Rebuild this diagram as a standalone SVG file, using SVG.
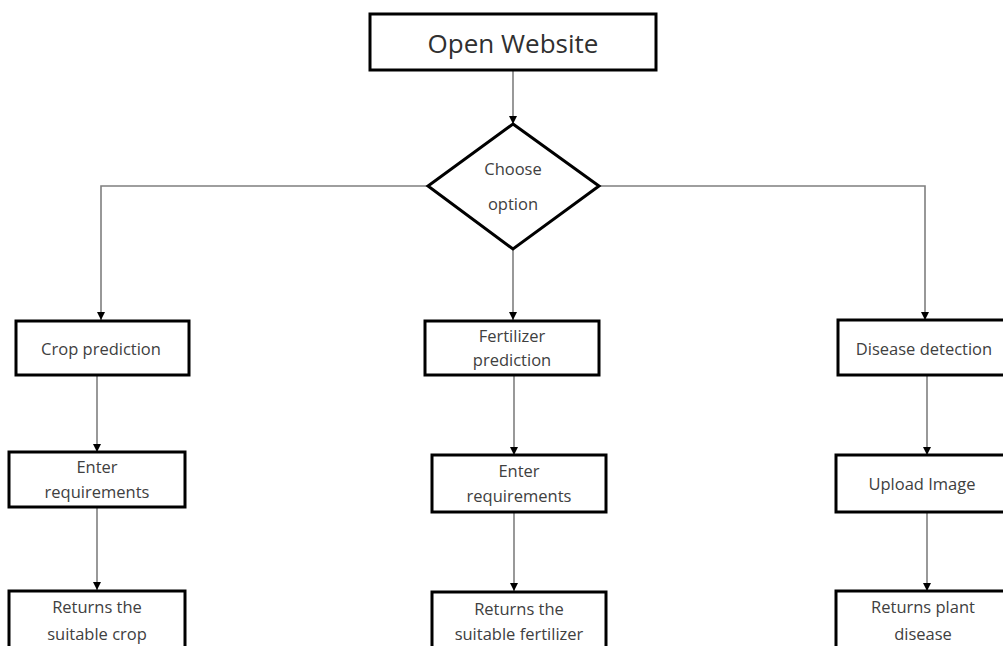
<svg xmlns="http://www.w3.org/2000/svg" width="1003" height="646" viewBox="0 0 1003 646">
<style>
.box{fill:#fff;stroke:#000;stroke-width:3}
.t{font-family:"Open Sans","Liberation Sans",sans-serif;font-size:16.5px;fill:#404040;text-anchor:middle}
.big{font-size:26px;fill:#303030}
.c{fill:none;stroke:#7f7f7f;stroke-width:1.6}
</style>
<defs>
<marker id="a" markerWidth="10" markerHeight="10" refX="9" refY="5" orient="auto" markerUnits="userSpaceOnUse">
<path d="M1,1 L9,5 L1,9 Z" fill="#000"/>
</marker>
</defs>
<g id="connectors">
<path class="c" d="M513,70 V124" marker-end="url(#a)"/>
<path class="c" d="M428,186 H101 V320" marker-end="url(#a)"/>
<path class="c" d="M599,186 H925 V320" marker-end="url(#a)"/>
<path class="c" d="M513,249 V320" marker-end="url(#a)"/>
<path class="c" d="M97,375 V452" marker-end="url(#a)"/>
<path class="c" d="M97,507 V590" marker-end="url(#a)"/>
<path class="c" d="M514,375 V455" marker-end="url(#a)"/>
<path class="c" d="M514,512 V591" marker-end="url(#a)"/>
<path class="c" d="M927,375 V455" marker-end="url(#a)"/>
<path class="c" d="M927,512 V591" marker-end="url(#a)"/>
</g>
<g id="open-website">
<rect class="box" x="370" y="14" width="286" height="56"/>
<text class="t big" x="513" y="53">Open Website</text>
</g>
<g id="choose-option">
<path class="box" d="M513,124 L599,186 L513,249 L428,186 Z"/>
<text class="t" x="513" y="175">Choose</text>
<text class="t" x="513" y="210">option</text>
</g>
<g id="crop-prediction">
<rect class="box" x="16" y="321" width="173" height="54"/>
<text class="t" x="101" y="355">Crop prediction</text>
</g>
<g id="fertilizer-prediction">
<rect class="box" x="425" y="321" width="174" height="54"/>
<text class="t" x="512" y="342">Fertilizer</text>
<text class="t" x="512" y="366">prediction</text>
</g>
<g id="disease-detection">
<rect class="box" x="838" y="320" width="175" height="55"/>
<text class="t" x="924" y="355">Disease detection</text>
</g>
<g id="enter-req-crop">
<rect class="box" x="9" y="452" width="176" height="55"/>
<text class="t" x="97" y="473">Enter</text>
<text class="t" x="97" y="498">requirements</text>
</g>
<g id="enter-req-fert">
<rect class="box" x="432" y="455" width="174" height="57"/>
<text class="t" x="519" y="477">Enter</text>
<text class="t" x="519" y="502">requirements</text>
</g>
<g id="upload-image">
<rect class="box" x="836" y="455" width="177" height="57"/>
<text class="t" x="922" y="490">Upload Image</text>
</g>
<g id="returns-crop">
<rect class="box" x="9" y="591" width="176" height="70"/>
<text class="t" x="97" y="613">Returns the</text>
<text class="t" x="97" y="640">suitable crop</text>
</g>
<g id="returns-fert">
<rect class="box" x="432" y="592" width="174" height="70"/>
<text class="t" x="519" y="615">Returns the</text>
<text class="t" x="519" y="640">suitable fertilizer</text>
</g>
<g id="returns-disease">
<rect class="box" x="836" y="591" width="177" height="70"/>
<text class="t" x="923" y="613">Returns plant</text>
<text class="t" x="923" y="640">disease</text>
</g>
</svg>
